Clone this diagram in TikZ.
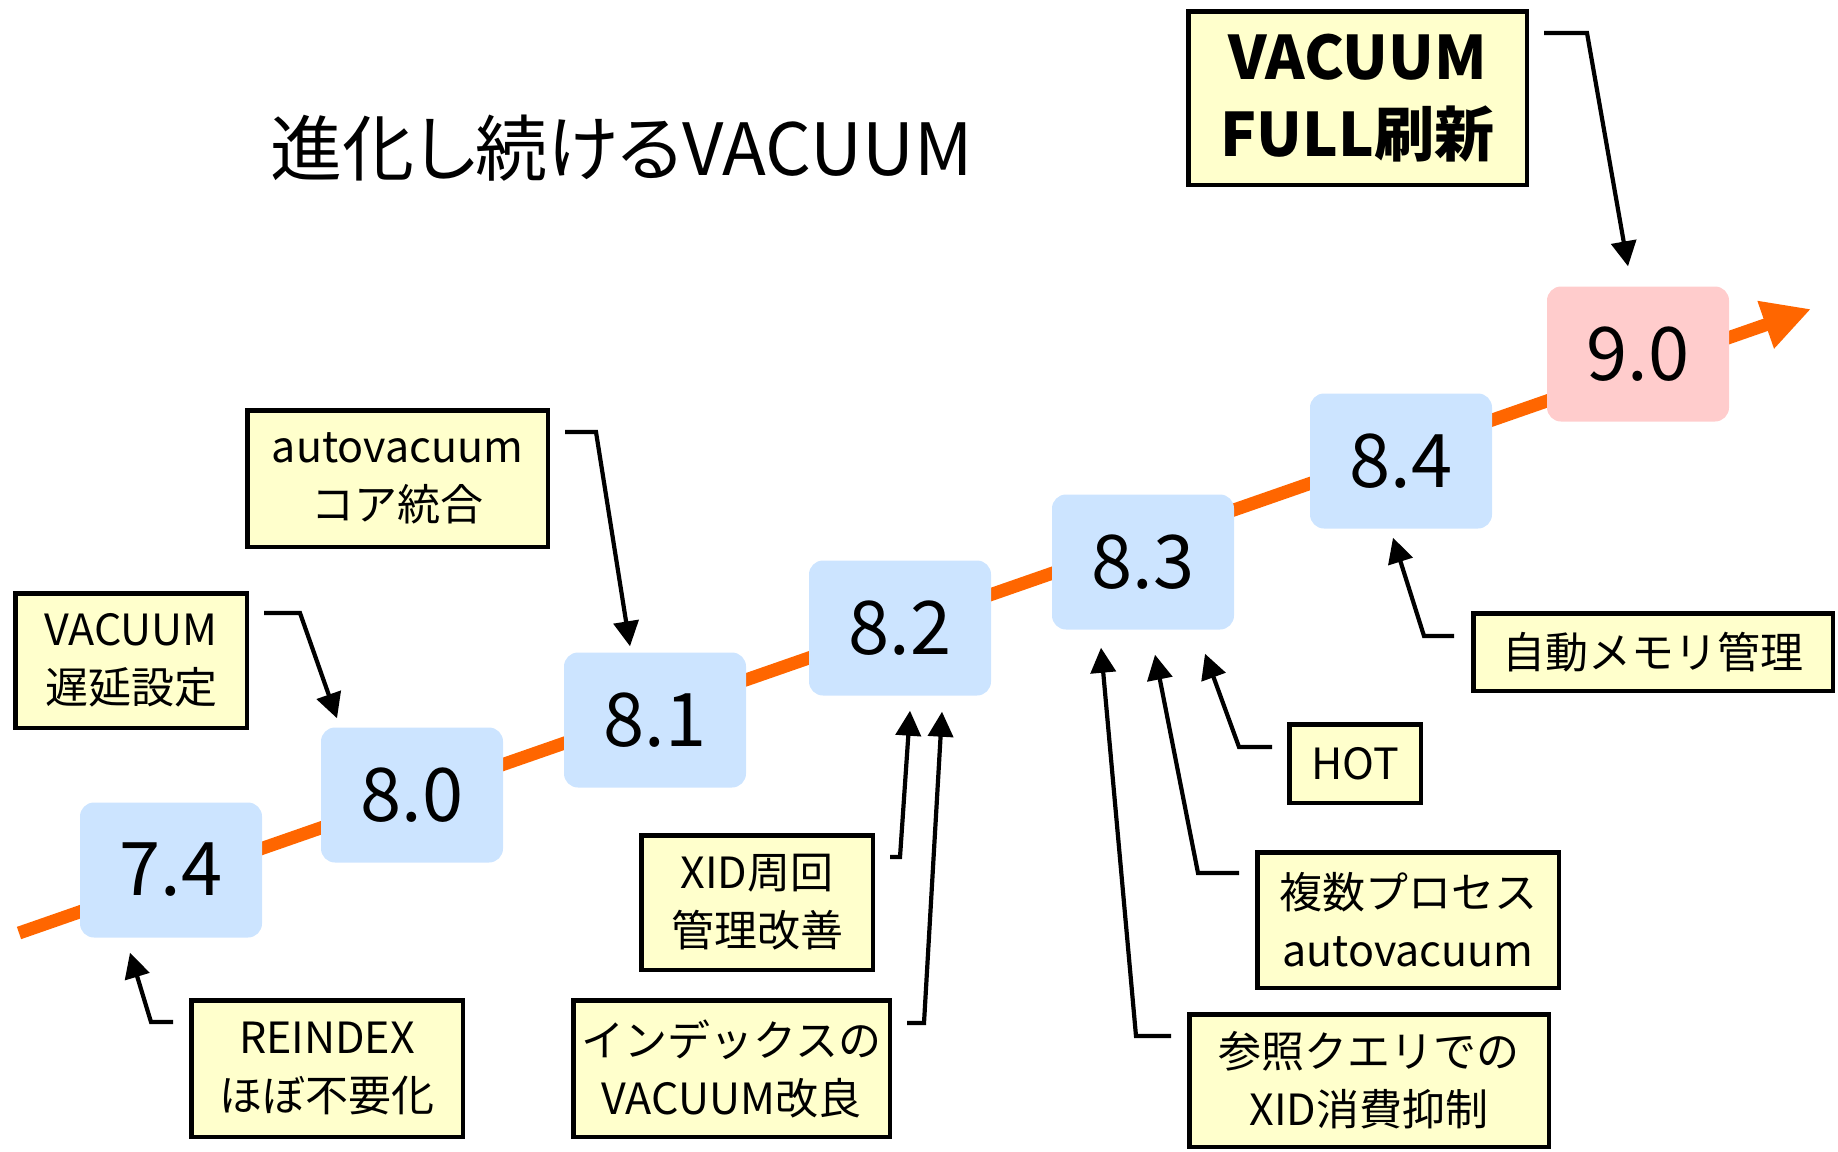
\documentclass[tikz,border=0pt]{standalone}
\usepackage{fontspec}
\setmainfont{Noto Sans CJK JP}
\newfontfamily\titlefont{Noto Sans CJK JP}[RawFeature=+palt]
\usetikzlibrary{arrows.meta}

\tikzset{
    verbox/.style={rounded corners=14pt, minimum width=182pt, minimum height=135pt, inner sep=0pt, font=\fontsize{74}{86}\selectfont},
    notebox/.style={draw=black, line width=4.5pt, fill=noteyellow, align=center, inner sep=0pt, font=\fontsize{43}{58}\selectfont},
    pointer/.style={draw=black, line width=4.2pt, -{Triangle[length=25pt,width=25pt]}},
}

\begin{document}
\begin{tikzpicture}[x=1pt,y=-1pt]
            \definecolor{noteyellow}{RGB}{255,255,204}
            \definecolor{verblue}{RGB}{204,228,255}
            \definecolor{verpink}{RGB}{255,204,204}
            \definecolor{lineorange}{RGB}{255,102,0}

            \useasboundingbox (0,0) rectangle (1838,1151);

            \node[font=\titlefont\fontsize{72}{86}\selectfont] (title) at (622,148) {進化し続けるVACUUM};

            % timeline behind the versions
            \coordinate (tl0) at (19,933);
            \coordinate (tl1) at (1811,309);
            \draw[line width=13pt, lineorange, -{Triangle[length=48pt,width=47pt]}] (tl0) -- (tl1);

            \node[verbox, fill=verblue] (v74) at (171,870) {7.4};
            \node[verbox, fill=verblue] (v80) at (412,795) {8.0};
            \node[verbox, fill=verblue] (v81) at (655,720) {8.1};
            \node[verbox, fill=verblue] (v82) at (900,628) {8.2};
            \node[verbox, fill=verblue] (v83) at (1143,562) {8.3};
            \node[verbox, fill=verblue] (v84) at (1401,461) {8.4};
            \node[verbox, fill=verpink] (v90) at (1638,354) {9.0};

            \node[notebox, minimum width=231.5pt, minimum height=134.5pt] (delay) at (131,660.5) {VACUUM\\遅延設定};
            \node[notebox, minimum width=300.5pt, minimum height=136.5pt] (core) at (397.5,478.5) {autovacuum\\コア統合};
            \node[notebox, minimum width=271.5pt, minimum height=136.5pt] (reindex) at (327,1068.5) {REINDEX\\ほぼ不要化};
            \node[notebox, minimum width=231.5pt, minimum height=134.5pt] (xid) at (757,902.5) {XID周回\\管理改善};
            \node[notebox, minimum width=316.5pt, minimum height=136.5pt] (idxvac) at (731.5,1068.5) {インデックスの\\VACUUM改良};
            \node[notebox, minimum width=131.5pt, minimum height=78.5pt] (hot) at (1355,763.5) {HOT};
            \node[notebox, minimum width=301.5pt, minimum height=135.5pt] (multi) at (1408,920) {複数プロセス\\autovacuum};
            \node[notebox, minimum width=359.5pt, minimum height=132.5pt] (query) at (1369,1080.5) {参照クエリでの\\XID消費抑制};
            \node[notebox, minimum width=359.5pt, minimum height=77.5pt] (mem) at (1653,652) {自動メモリ管理};
            \node[notebox, minimum width=338.5pt, minimum height=173.5pt, font=\bfseries\fontsize{60}{77}\selectfont] (full) at (1357.5,98) {VACUUM\\FULL刷新};

            \draw[pointer] ([xshift=-16pt,yshift=-24pt]reindex.north west) -- ++(-22,0) -- ([xshift=-41pt,yshift=-15pt]v74.south);
            \draw[pointer] ([xshift=15pt,yshift=-22pt]delay.north east) -- ++(36,0) -- ([xshift=-75pt,yshift=9pt]v80.north);
            \draw[pointer] ([xshift=15pt,yshift=-24pt]core.north east) -- ++(31,0) -- ([xshift=-25pt,yshift=6pt]v81.north);
            \draw[pointer] ([xshift=15pt,yshift=-24pt]xid.north east) -- ++(10,0) -- ([xshift=10pt,yshift=-15pt]v82.south);
            \draw[pointer] ([xshift=15pt,yshift=-25pt]idxvac.north east) -- ++(17,0) -- ([xshift=42pt,yshift=-16pt]v82.south);
            \draw[pointer] ([xshift=-15pt,yshift=-25pt]hot.north west) -- ++(-33,0) -- ([xshift=62pt,yshift=-24pt]v83.south);
            \draw[pointer] ([xshift=-16pt,yshift=-23pt]multi.north west) -- ++(-41,0) -- ([xshift=12pt,yshift=-25pt]v83.south);
            \draw[pointer] ([xshift=-16pt,yshift=-24pt]query.north west) -- ++(-35,0) -- ([xshift=-42pt,yshift=-18pt]v83.south);
            \draw[pointer] ([xshift=-17pt,yshift=-25pt]mem.north west) -- ++(-30,0) -- ([xshift=-8pt,yshift=-9pt]v84.south);
            \draw[pointer] ([xshift=15pt,yshift=-24pt]full.north east) -- ++(43,0) -- ([xshift=-10pt,yshift=20pt]v90.north);
\end{tikzpicture}
\end{document}
